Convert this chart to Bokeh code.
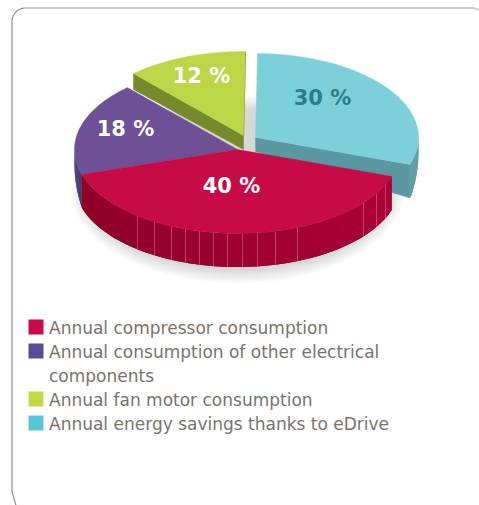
import numpy as np
from bokeh.plotting import figure
from bokeh.models import Range1d, ColumnDataSource
from bokeh.core.properties import value
from bokeh.embed import file_html
from bokeh.resources import INLINE

# ---- data ----
shares = [40, 18, 12, 30]
slice_labels = ["40 %", "18 %", "12 %", "30 %"]
label_colors = ["#FFFFFF", "#FFFFFF", "#FFFFFF", "#2E7C85"]
top_colors = ["#C60B46", "#6D5096", "#BCD648", "#7CD0D9"]
wall_left = ["#8E0028", "#3F3368", "#76892B", "#5A98A1"]
wall_right = ["#AA0038", "#3F3368", "#76892B", "#54939D"]
explode = [(0, 0), (0, 0), (6, -14), (18, -12)]
label_pos = [(231, 185), (125, 128), (201, 75), (322, 97)]
legend_items = ["Annual compressor consumption",
                "Annual consumption of other electrical",
                "Annual fan motor consumption",
                "Annual energy savings thanks to eDrive"]
legend_colors = ["#C9094A", "#544D97", "#C0D945", "#59C7D3"]
legend_rows = [327, 351, 399, 423]
wrapped_line = "components"
wrapped_row = 375
rib_x = [137, 154, 171, 185, 199, 213, 227, 242, 257, 275, 297, 363, 376, 385]

# ---- layout constants ----
CX, CY, RX, RY = 237, 149, 163, 84
START = -18.7
BACK, FRONT = 14.0, 33.5
FONT = "DejaVu Sans"


def rim(theta, off=(0, 0)):
    t = np.radians(theta)
    return CX + RX * np.cos(t) + off[0], CY - RY * np.sin(t) + off[1]


def depth(theta):
    s = -np.sin(np.radians(theta))
    return BACK + (FRONT - BACK) * np.clip(s / 0.3, 0, 1)


def mix(a, b, f):
    ca = [int(a[i:i + 2], 16) for i in (1, 3, 5)]
    cb = [int(b[i:i + 2], 16) for i in (1, 3, 5)]
    return "#%02x%02x%02x" % tuple(int(round(x + (y - x) * f)) for x, y in zip(ca, cb))


p = figure(width=479, height=505, x_range=Range1d(0, 479), y_range=Range1d(505, 0),
           output_backend="svg", toolbar_location=None, min_border=0)
p.axis.visible = False
p.grid.visible = False
p.outline_line_color = None

# rounded card
tl = np.radians(np.linspace(180, 270, 12))
left_x = list(25 + 13.5 * np.cos(tl))
left_y = list(21 + 13.5 * np.sin(tl))
p.line(left_x + [11.5, 11.5, 15.5][::-1][::-1][:0], left_y, line_color="#8F8F8F", line_width=1.2)
p.line([11.5, 11.5, 15.5], [21, 491, 505], line_color="#8F8F8F", line_width=1.2)
p.line([25, 473, 479], [7.5, 7.5, 9.5], line_color="#CBC9C2", line_width=1.8)

# soft shadow under the pie
for i in range(10):
    p.ellipse(x=CX, y=CY + 40, width=2 * RX + 8 - 3.2 * i, height=2 * RY + 20 - 3.0 * i,
              fill_color="#3A3A3A", fill_alpha=0.018, line_color=None)

# angle spans derived from the shares
edges = START - np.cumsum([0] + [s / sum(shares) * 360 for s in shares])
spans = [(edges[i], edges[i + 1]) for i in range(len(shares))]


def draw_slice(i):
    a0, a1 = spans[i]
    off = explode[i]
    th = np.linspace(a0, a1, 80)
    ax, ay = CX + off[0], CY + off[1]
    # curved wall: only the part facing the viewer
    lo = th[np.sin(np.radians(th)) <= 0.02]
    if len(lo) > 1:
        lo = np.linspace(lo[0], lo[-1], 50)
        xm = rim(lo, off)[0]
        span = max(xm.max() - xm.min(), 1)
        # draw from the far end; each strip overlaps the next one so no seams show
        for k in range(len(lo) - 1):
            e = min(k + 2, len(lo) - 1)
            seg = lo[k:e + 1]
            x0, y0 = rim(seg, off)
            d = depth(seg)
            col = mix(wall_left[i], wall_right[i], (x0[0] - xm.min()) / span)
            p.patch(list(x0) + list(x0[::-1]), list(y0) + list((y0 + d)[::-1]), fill_color=col, line_color=None)
    # top face
    tx, ty = rim(th, off)
    p.patch([ax] + list(tx), [ay] + list(ty), fill_color=top_colors[i], line_color=top_colors[i], line_width=0.4)


def cut_face(i, theta, d_outer):
    off = explode[i]
    x, y = rim(theta, off)
    ax, ay = CX + off[0], CY + off[1]
    p.patch([ax, x, x, ax], [ay, y, y + d_outer, ay + BACK], fill_color=wall_left[i], line_color=wall_left[i], line_width=0.4)


# green (back), with its cut face on the left
cut_face(2, spans[2][0], BACK + 2)
p.line(*zip(rim(spans[2][1], explode[2]), (CX + explode[2][0], CY + explode[2][1])), line_color=wall_left[2], line_width=1.2)
draw_slice(2)
# purple
draw_slice(1)
# teal
cut_face(3, spans[3][1], depth(spans[3][1]))
draw_slice(3)
# red (front)
draw_slice(0)

# ribs on the red wall
rx = np.array(rib_x, dtype=float)
rib_th = -np.degrees(np.arccos((rx - CX) / RX))
rib_top = CY - RY * np.sin(np.radians(rib_th))
p.segment(rx, rib_top, rx, rib_top + depth(rib_th), line_color="#D8668C", line_width=0.8, line_alpha=0.75)

# percent labels
src = ColumnDataSource(dict(x=[q[0] for q in label_pos], y=[q[1] for q in label_pos],
                            t=slice_labels, c=label_colors))
p.text("x", "y", text="t", source=src, text_color="c", text_align="center", text_baseline="middle",
       text_font=value(FONT), text_font_style="bold", text_font_size="21px")

# legend
p.scatter([35.5] * 4, np.array(legend_rows) - 0.5, size=15, marker="square", fill_color=legend_colors, line_color=None)
p.text([48.5] * 4, legend_rows, text=legend_items, text_color="#7A736C", text_baseline="middle",
       text_font=value(FONT), text_font_size="17px")
p.text([48.5], [wrapped_row], text=[wrapped_line], text_color="#7A736C", text_baseline="middle",
       text_font=value(FONT), text_font_size="17px")

open("out.html", "w").write(file_html(p, INLINE))
